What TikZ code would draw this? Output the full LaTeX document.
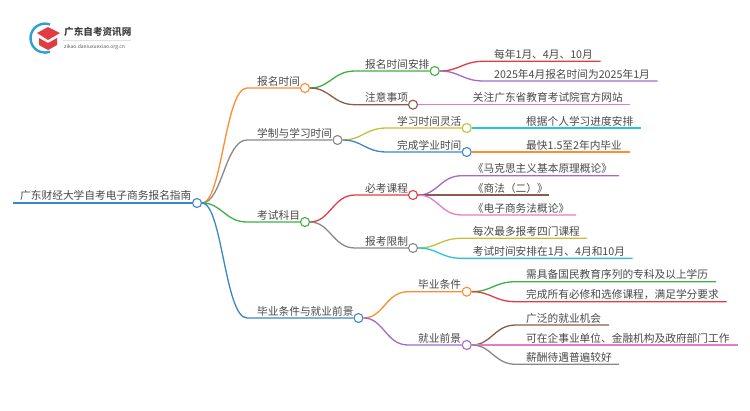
\documentclass[tikz,border=0pt]{standalone}
\usepackage{fontspec}
\setmainfont{Noto Sans CJK SC}
\definecolor{myblue}{RGB}{58,135,200}
\definecolor{myorange}{RGB}{255,140,46}
\definecolor{mygrey}{RGB}{136,136,136}
\definecolor{mygreen}{RGB}{62,176,68}
\definecolor{myred}{RGB}{226,60,66}
\definecolor{mypurple}{RGB}{160,108,200}
\definecolor{mybrown}{RGB}{140,90,80}
\definecolor{mypink}{RGB}{232,124,196}
\definecolor{myolive}{RGB}{196,192,58}
\definecolor{mycyan}{RGB}{38,198,216}
\definecolor{mytext}{RGB}{72,72,72}
\tikzset{
    txt/.style={anchor=base west,inner sep=0pt,text=mytext,font=\fontsize{10.7}{12}\selectfont},
    dot/.style={circle,draw=#1,fill=white,line width=1.1pt,minimum size=9pt,inner sep=0pt},
    branch/.style={draw=#1,line width=1.3pt},
    curve/.style={to path={.. controls +(20,0) and +(-22,0) .. (\tikztotarget)}}
}
\begin{document}
\begin{tikzpicture}[x=1pt,y=-1pt]
    \useasboundingbox (0,0) rectangle (750,410);

    % Logo
    \draw[myblue!80!cyan,line width=2.4pt] (50,24.5) arc[start angle=-70,end angle=-290,radius=14.5];
    \fill[myred] (37,33) -- (48,27) -- (60,33) -- (48,40) -- cycle;
    \fill[myred] (39,38) -- (48,43) -- (57,38) -- (57,45) -- (48,50) -- (39,45) -- cycle;
    \node[anchor=base west,inner sep=0pt,text=black!75,font=\fontsize{9.6}{10}\bfseries] (logoName) at (64,35) {广东自考资讯网};
    \node[anchor=base west,inner sep=0pt,text=black!65,font=\fontsize{5}{6}\selectfont] (logoWeb) at (64,48.5) {zikao.daniuxuexiao.org.cn};
    \draw[black!12,line width=0.5pt] (63,40.3) -- (131,40.3);

    % Nodos raiz y primer nivel
    \node[dot=myblue] (root) at (197,203) {};
    \node[dot=myorange] (timeDot) at (305,88) {};
    \node[dot=mygrey] (studyDot) at (337.5,140) {};
    \node[dot=mygreen] (examDot) at (305,222) {};
    \node[dot=myblue] (gradDot) at (358.5,318) {};

    % Nodos de segundo nivel
    \node[dot=mygreen] (planDot) at (434.7,71) {};
    \node[dot=mybrown] (noteDot) at (413,104.7) {};
    \node[dot=myolive] (flexDot) at (466.7,128) {};
    \node[dot=myblue] (finishDot) at (466.7,152) {};
    \node[dot=myred] (courseDot) at (413,195) {};
    \node[dot=mygrey] (limitDot) at (413,248) {};
    \node[dot=myorange] (condDot) at (466.7,291.7) {};
    \node[dot=mypurple] (jobDot) at (466.7,345) {};

    % Textos
    \node[txt] (rootText) at (20,199.5) {广东财经大学自考电子商务报名指南};
    \node[txt] (timeText) at (257,85) {报名时间};
    \node[txt] (studyText) at (257,137) {学制与学习时间};
    \node[txt] (examText) at (257,219) {考试科目};
    \node[txt] (gradText) at (257,315) {毕业条件与就业前景};
    \node[txt] (planText) at (365,68) {报名时间安排};
    \node[txt] (noteText) at (365,101.7) {注意事项};
    \node[txt] (flexText) at (397,125) {学习时间灵活};
    \node[txt] (finishText) at (397,149) {完成学业时间};
    \node[txt] (courseText) at (365,192) {必考课程};
    \node[txt] (limitText) at (365,245) {报考限制};
    \node[txt] (condText) at (418,288.7) {毕业条件};
    \node[txt] (jobText) at (418,342) {就业前景};
    \node[txt] (leafA) at (494,58.3) {每年1月、4月、10月};
    \node[txt] (leafB) at (494,78) {2025年4月报名时间为2025年1月};
    \node[txt] (leafC) at (472.7,101.7) {关注广东省教育考试院官方网站};
    \node[txt] (leafD) at (526,125) {根据个人学习进度安排};
    \node[txt] (leafE) at (526,149) {最快1.5至2年内毕业};
    \node[txt] (leafF) at (472.7,172.7) {《马克思主义基本原理概论》};
    \node[txt] (leafG) at (472.7,192) {《商法（二）》};
    \node[txt] (leafH) at (472.7,212) {《电子商务法概论》};
    \node[txt] (leafI) at (472.7,235.3) {每次最多报考四门课程};
    \node[txt] (leafJ) at (472.7,255.3) {考试时间安排在1月、4月和10月};
    \node[txt] (leafK) at (526,278.7) {需具备国民教育序列的专科及以上学历};
    \node[txt] (leafL) at (526,298.7) {完成所有必修和选修课程，满足学分要求};
    \node[txt] (leafM) at (526,322) {广泛的就业机会};
    \node[txt] (leafN) at (526,342) {可在企事业单位、金融机构及政府部门工作};
    \node[txt] (leafO) at (526,361.3) {薪酬待遇普遍较好};

    % Lineas de primer nivel
    \coordinate (rootStart) at (13,203);
    \draw[branch=myblue] (rootStart) -- (root.west);
    \draw[branch=myorange] (root.east) to[curve] (247,88) -- (timeDot.west);
    \draw[branch=mygrey] (root.east) to[curve] (247,140) -- (studyDot.west);
    \draw[branch=mygreen] (root.east) to[curve] (247,222) -- (examDot.west);
    \draw[branch=myblue] (root.east) to[curve] (247,318) -- (gradDot.west);

    % Lineas de segundo nivel
    \draw[branch=mygreen] (timeDot.east) to[curve] (355,71) -- (planDot.west);
    \draw[branch=mybrown] (timeDot.east) to[curve] (355,104.7) -- (noteDot.west);
    \draw[branch=myolive] (studyDot.east) to[curve] (387,128) -- (flexDot.west);
    \draw[branch=myblue] (studyDot.east) to[curve] (387,152) -- (finishDot.west);
    \draw[branch=myred] (examDot.east) to[curve] (355,195) -- (courseDot.west);
    \draw[branch=mygrey] (examDot.east) to[curve] (355,248) -- (limitDot.west);
    \draw[branch=myorange] (gradDot.east) to[curve] (408,291.7) -- (condDot.west);
    \draw[branch=mypurple] (gradDot.east) to[curve] (408,345) -- (jobDot.west);

    % Lineas de tercer nivel
    \draw[branch=myred] (planDot.east) to[curve] (484,61.3) -- (600.7,61.3);
    \draw[branch=mypurple] (planDot.east) to[curve] (484,81) -- (657.7,81);
    \draw[branch=mypink] (noteDot.east) -- (630,104.7);
    \draw[branch=mycyan] (flexDot.east) -- (640.7,128);
    \draw[branch=myorange] (finishDot.east) -- (630,152);
    \draw[branch=mypurple] (courseDot.east) to[curve] (462,175.7) -- (619,175.7);
    \draw[branch=mybrown] (courseDot.east) -- (549,195);
    \draw[branch=mypink] (courseDot.east) to[curve] (462,215) -- (576,215);
    \draw[branch=myolive] (limitDot.east) to[curve] (462,238.3) -- (587,238.3);
    \draw[branch=mycyan] (limitDot.east) to[curve] (462,258.3) -- (632.7,258.3);
    \draw[branch=mygreen] (condDot.east) to[curve] (516,281.7) -- (716,281.7);
    \draw[branch=myred] (condDot.east) to[curve] (516,301.7) -- (726.7,301.7);
    \draw[branch=mybrown] (jobDot.east) to[curve] (516,325) -- (609,325);
    \draw[branch=mypink] (jobDot.east) -- (737.7,345);
    \draw[branch=mygrey] (jobDot.east) to[curve] (516,364.3) -- (619,364.3);
\end{tikzpicture}
\end{document}
